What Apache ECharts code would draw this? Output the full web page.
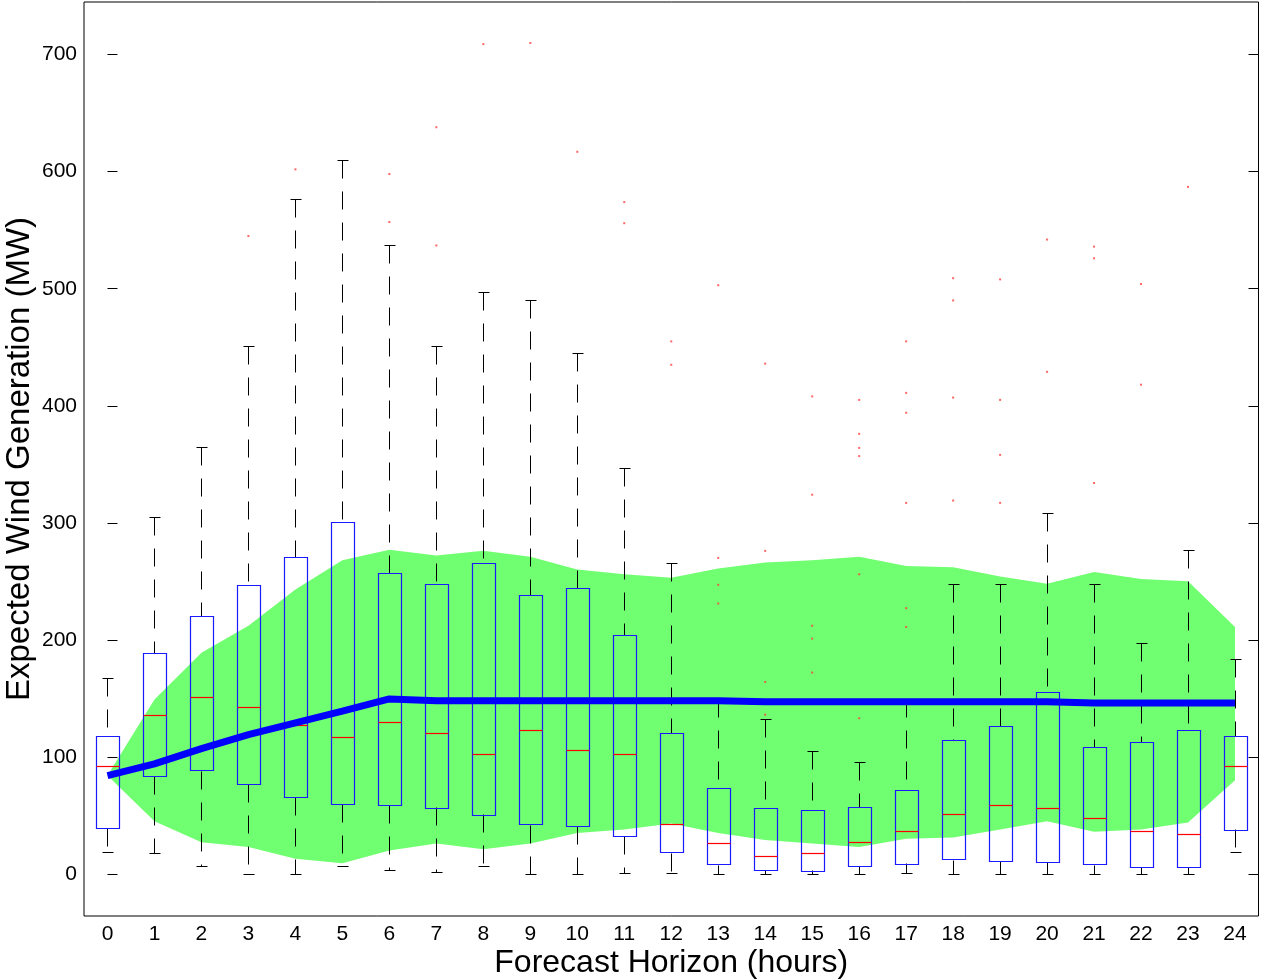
<!DOCTYPE html>
<html>
<head>
<meta charset="utf-8">
<script src="https://cdn.jsdelivr.net/npm/echarts@6/dist/echarts.min.js"></script>
<style>
html, body { margin: 0; padding: 0; background: #fff; }
#main { width: 1261px; height: 980px; }
</style>
</head>
<body>
<div id="main"></div>
<script>
// forecast horizon, hours
var hours = [0, 1, 2, 3, 4, 5, 6, 7, 8, 9, 10, 11, 12, 13, 14, 15, 16, 17, 18, 19, 20, 21, 22, 23, 24];

// box plot statistics (MW)
var whiskerHigh = [167, 305, 365, 451, 577, 610, 537, 451, 497, 490, 445, 347, 266, 149, 132, 105, 96, 149, 248, 248, 308, 248, 197, 277, 184];
var q3 = [118, 189, 220, 247, 271, 301, 257, 248, 266, 238, 244, 204, 120, 73, 56, 55, 57, 72, 114, 126, 155, 108, 113, 123, 118];
var median = [92, 136, 151, 143, 127, 117, 130, 120, 102, 123, 106, 102, 43, 26, 15, 18, 27, 37, 51, 59, 56, 48, 37, 34, 92];
var q1 = [39, 84, 88, 77, 66, 60, 59, 57, 51, 42, 41, 32, 18, 8, 3, 3, 7, 9, 12, 11, 10, 8, 6, 6, 38];
var whiskerLow = [19, 18, 7, 0, 0, 7, 3, 2, 7, 0, 0, 1, 1, 0, 0, 0, 0, 1, 0, 0, 0, 0, 0, 0, 19];

// green band
var bandLow = [84, 45, 27, 23, 13, 9, 20, 26, 21, 26, 35, 38, 43, 35, 29, 26, 23, 30, 31, 38, 45, 36, 38, 44, 80];
var bandHigh = [84, 149, 189, 212, 243, 268, 277, 272, 276, 271, 260, 256, 253, 261, 266, 268, 271, 263, 262, 254, 248, 258, 252, 250, 211];

// expected generation (thick blue line)
var expected = [84, 94, 107, 119, 129, 139, 149.5, 148, 148, 148, 148, 148, 148, 148, 147, 147, 147, 147, 147, 147, 147, 146, 146, 146, 146];

// outliers [hour, MW]
var outliers = [
	[3, 545], [4, 602], [6, 598], [6, 557], [7, 638], [7, 537], [8, 709], [9, 710], [10, 617],
	[11, 574], [11, 556], [12, 455], [12, 435], [13, 503], [13, 270], [13, 247], [13, 231],
	[14, 436], [14, 276], [14, 164], [14, 136], [15, 408], [15, 324], [15, 212], [15, 201], [15, 172],
	[16, 405], [16, 376], [16, 364], [16, 357], [16, 256], [16, 133],
	[17, 455], [17, 411], [17, 394], [17, 317], [17, 227], [17, 211],
	[18, 509], [18, 490], [18, 407], [18, 319], [19, 508], [19, 405], [19, 358], [19, 317],
	[20, 542], [20, 429], [21, 536], [21, 526], [21, 334], [22, 504], [22, 418], [23, 587]
];

var yTicks = [0, 100, 200, 300, 400, 500, 600, 700];

var boxData = [];
var lineData = [];
for (var i = 0; i < hours.length; i++) {
	boxData.push([hours[i], whiskerLow[i], q1[i], median[i], q3[i], whiskerHigh[i]]);
	lineData.push([hours[i], expected[i]]);
}

function px(v) {
	return Math.round(v) + 0.5;
}

// whole band as one polygon: upper edge left to right, lower edge back
function renderBand(params, api) {
	var pts = [];
	for (var i = 0; i < hours.length; i++) {
		pts.push(api.coord([hours[i], bandHigh[i]]));
	}
	for (var j = hours.length - 1; j >= 0; j--) {
		pts.push(api.coord([hours[j], bandLow[j]]));
	}
	return {
		type: 'polygon',
		shape: { points: pts },
		style: { fill: '#70ff70', stroke: 'none' }
	};
}

function renderBox(params, api) {
	var h = api.value(0);
	var lo = api.coord([h, api.value(1)]);
	var b1 = api.coord([h, api.value(2)]);
	var md = api.coord([h, api.value(3)]);
	var b3 = api.coord([h, api.value(4)]);
	var hi = api.coord([h, api.value(5)]);
	var bw = api.size([0.5, 0])[0] / 2;
	var cw = api.size([0.25, 0])[0] / 2;
	var x = px(lo[0]);
	var dash = { stroke: '#000', lineWidth: 1, lineDash: [18, 13] };
	var solid = { stroke: '#000', lineWidth: 1 };
	return {
		type: 'group',
		children: [
			{ type: 'line', shape: { x1: x, y1: px(hi[1]), x2: x, y2: px(b3[1]) }, style: dash },
			{ type: 'line', shape: { x1: x, y1: px(b1[1]), x2: x, y2: px(lo[1]) }, style: dash },
			{ type: 'line', shape: { x1: px(x - cw), y1: px(hi[1]), x2: px(x + cw), y2: px(hi[1]) }, style: solid },
			{ type: 'line', shape: { x1: px(x - cw), y1: px(lo[1]), x2: px(x + cw), y2: px(lo[1]) }, style: solid },
			{
				type: 'rect',
				shape: { x: px(x - bw), y: px(b3[1]), width: Math.round(2 * bw), height: Math.round(b1[1] - b3[1]) },
				style: { fill: 'none', stroke: '#1a1aff', lineWidth: 1.2 }
			},
			{ type: 'line', shape: { x1: px(x - bw), y1: px(md[1]), x2: px(x + bw), y2: px(md[1]) }, style: { stroke: '#ff0000', lineWidth: 1.2 } }
		]
	};
}

var myChart = echarts.init(document.getElementById('main'));

var labelFont = { color: '#000', fontFamily: 'Liberation Sans, Arial', fontSize: 21 };
var nameFont = { color: '#000', fontFamily: 'Liberation Sans, Arial', fontSize: 32 };

myChart.setOption({
	animation: false,
	grid: {
		left: 84,
		right: 2.5,
		top: 2,
		bottom: 64,
		outerBoundsMode: 'none',
		containLabel: false,
		show: true,
		borderColor: '#000',
		borderWidth: 1,
		backgroundColor: '#fff'
	},
	xAxis: {
		type: 'value',
		min: -0.5,
		max: 24.5,
		name: 'Forecast Horizon (hours)',
		nameLocation: 'middle',
		nameGap: 31,
		nameMoveOverlap: false,
		nameTextStyle: nameFont,
		axisLine: { show: false },
		axisTick: { show: false },
		splitLine: { show: false },
		axisLabel: Object.assign({ margin: 8, customValues: hours }, labelFont)
	},
	yAxis: [{
		type: 'value',
		min: -36,
		max: 745,
		name: 'Expected Wind Generation (MW)',
		nameLocation: 'middle',
		nameGap: 48,
		nameMoveOverlap: false,
		nameTextStyle: Object.assign({}, nameFont, { fontSize: 33 }),
		axisLine: { show: false },
		axisTick: { show: true, inside: true, length: 10, customValues: yTicks, lineStyle: { color: '#000' } },
		splitLine: { show: false },
		axisLabel: Object.assign({ margin: 7, customValues: yTicks }, labelFont)
	}, {
		type: 'value',
		position: 'right',
		min: -36,
		max: 745,
		axisLine: { show: false },
		axisTick: { show: true, inside: true, length: 10, customValues: yTicks, lineStyle: { color: '#000' } },
		splitLine: { show: false },
		axisLabel: { show: false }
	}],
	series: [{
		name: 'band',
		type: 'custom',
		renderItem: renderBand,
		data: [[0, 84]],
		silent: true,
		z: 1
	}, {
		name: 'boxes',
		type: 'custom',
		renderItem: renderBox,
		encode: { x: 0, y: [1, 2, 3, 4, 5] },
		data: boxData,
		z: 3
	}, {
		name: 'outliers',
		type: 'scatter',
		data: outliers,
		symbol: 'rect',
		symbolSize: 2,
		itemStyle: { color: '#ff4040' },
		z: 4
	}, {
		name: 'expected',
		type: 'line',
		data: lineData,
		symbol: 'none',
		lineStyle: { color: '#0000ff', width: 7 },
		z: 5
	}]
});
</script>
</body>
</html>
